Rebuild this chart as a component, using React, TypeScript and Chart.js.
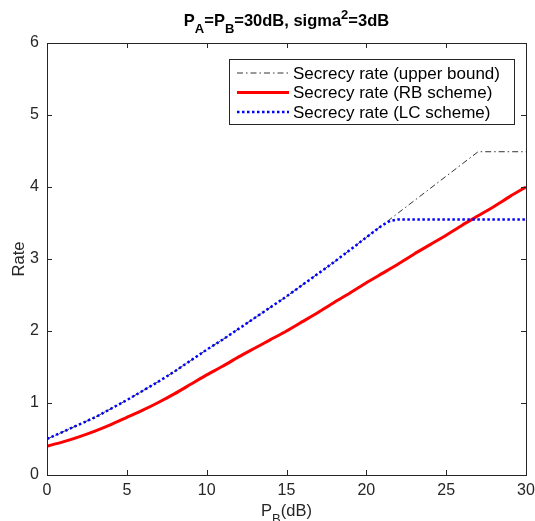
import React, { useEffect, useRef } from "react";
import { Chart, registerables } from "chart.js";
Chart.register(...registerables);

const xUpper = [0,1,2,3,4,5,6,7,8,9,10,11,12,13,14,15,16,17,18,19,20,21,22,23,24,25,26,27,28,29,30];
const yUpper = [0.50,0.60,0.70,0.80,0.92,1.04,1.17,1.30,1.44,1.59,1.74,1.88,2.03,2.18,2.33,2.48,2.64,2.80,2.96,3.13,3.30,3.47,3.64,3.81,3.98,4.15,4.32,4.49,4.49,4.49,4.49];
const xRB = [0,1,2,3,4,5,6,7,8,9,10,11,12,13,14,15,16,17,18,19,20,21,22,23,24,25,26,27,28,29,30];
const yRB = [0.40,0.46,0.53,0.61,0.70,0.80,0.90,1.01,1.13,1.26,1.39,1.51,1.64,1.76,1.88,2.00,2.13,2.26,2.40,2.53,2.67,2.80,2.93,3.07,3.20,3.33,3.47,3.60,3.73,3.87,4.00];
const xLC = [0,1,2,3,4,5,6,7,8,9,10,11,12,13,14,15,16,17,18,19,20,21,21.5,22,23,24,25,26,27,28,29,30];
const yLC = [0.50,0.60,0.70,0.80,0.92,1.04,1.17,1.30,1.44,1.59,1.74,1.88,2.03,2.18,2.33,2.48,2.64,2.80,2.96,3.13,3.30,3.47,3.53,3.55,3.55,3.55,3.55,3.55,3.55,3.55,3.55,3.55];
const xTicks = [0,5,10,15,20,25,30];
const yTicks = [0,1,2,3,4,5,6];
const legendLabels = ["Secrecy rate (upper bound)", "Secrecy rate (RB scheme)", "Secrecy rate (LC scheme)"];

const FONT = "'Liberation Sans', Arial, Helvetica, sans-serif";
const AX = "#262626";

type Seg = { t: string; sub?: boolean; sup?: boolean };

function drawRich(ctx: CanvasRenderingContext2D, segs: Seg[], cx: number, y: number, size: number, bold: boolean) {
  const w = bold ? "bold " : "";
  const small = Math.round(size * 0.8);
  let total = 0;
  for (const s of segs) {
    ctx.font = `${w}${s.sub || s.sup ? small : size}px ${FONT}`;
    total += ctx.measureText(s.t).width;
  }
  let x = cx - total / 2;
  ctx.textAlign = "left";
  ctx.textBaseline = "alphabetic";
  for (const s of segs) {
    ctx.font = `${w}${s.sub || s.sup ? small : size}px ${FONT}`;
    const dy = s.sub ? size * 0.4 : s.sup ? -size * 0.4 : 0;
    ctx.fillText(s.t, x, y + dy);
    x += ctx.measureText(s.t).width;
  }
}

const decor = {
  id: "decor",
  afterDraw(chart: any) {
    const ctx: CanvasRenderingContext2D = chart.ctx;
    const a = chart.chartArea;
    const xs = chart.scales.x;
    const ys = chart.scales.y;
    ctx.save();
    ctx.strokeStyle = AX;
    ctx.lineWidth = 1;
    ctx.setLineDash([]);
    ctx.strokeRect(Math.round(a.left) + 0.5, Math.round(a.top) + 0.5, Math.round(a.right - a.left), Math.round(a.bottom - a.top));
    const tl = 5;
    ctx.beginPath();
    for (const v of xTicks) {
      const px = Math.round(xs.getPixelForValue(v)) + 0.5;
      ctx.moveTo(px, a.bottom); ctx.lineTo(px, a.bottom - tl);
      ctx.moveTo(px, a.top); ctx.lineTo(px, a.top + tl);
    }
    for (const v of yTicks) {
      const py = Math.round(ys.getPixelForValue(v)) + 0.5;
      ctx.moveTo(a.left, py); ctx.lineTo(a.left + tl, py);
      ctx.moveTo(a.right, py); ctx.lineTo(a.right - tl, py);
    }
    ctx.stroke();

    // legend
    const lx = 229.5, ly = 59.5, lw = 285, lh = 65;
    ctx.fillStyle = "#fff";
    ctx.fillRect(lx, ly, lw, lh);
    ctx.strokeStyle = AX;
    ctx.lineWidth = 1;
    ctx.strokeRect(lx, ly, lw, lh);
    const rows = [73, 92.5, 112];
    const styles = [
      { c: "#000", w: 0.8, d: [6, 3, 1.5, 3] },
      { c: "#ff0000", w: 3, d: [] as number[] },
      { c: "#0000ff", w: 2.5, d: [2.5, 2.5] },
    ];
    ctx.font = `17px ${FONT}`;
    ctx.textBaseline = "middle";
    ctx.textAlign = "left";
    for (let i = 0; i < 3; i++) {
      const s = styles[i];
      ctx.beginPath();
      ctx.strokeStyle = s.c;
      ctx.lineWidth = s.w;
      ctx.setLineDash(s.d);
      ctx.moveTo(237, rows[i]);
      ctx.lineTo(289, rows[i]);
      ctx.stroke();
      ctx.setLineDash([]);
      ctx.fillStyle = "#000";
      ctx.fillText(legendLabels[i], 293, rows[i] + 1);
    }

    // title
    ctx.fillStyle = "#000";
    drawRich(ctx, [{ t: "P" }, { t: "A", sub: true }, { t: "=P" }, { t: "B", sub: true }, { t: "=30dB, sigma" }, { t: "2", sup: true }, { t: "=3dB" }], (a.left + a.right) / 2, 26, 16.5, true);
    // x label
    ctx.fillStyle = AX;
    drawRich(ctx, [{ t: "P" }, { t: "B", sub: true }, { t: "(dB)" }], (a.left + a.right) / 2, 516, 16.5, false);
    // y label
    ctx.save();
    ctx.translate(19, (a.top + a.bottom) / 2);
    ctx.rotate(-Math.PI / 2);
    ctx.font = `16.5px ${FONT}`;
    ctx.textAlign = "center";
    ctx.textBaseline = "middle";
    ctx.fillText("Rate", 0, 0);
    ctx.restore();
    ctx.restore();
  },
};

function toPts(xs: number[], ys: number[]) {
  return xs.map((x, i) => ({ x, y: ys[i] }));
}

export default function App() {
  const ref = useRef<HTMLCanvasElement | null>(null);
  useEffect(() => {
    if (!ref.current) return;
    const chart = new Chart(ref.current, {
      type: "line",
      data: {
        datasets: [
          { label: legendLabels[2], data: toPts(xLC, yLC), borderColor: "#0000ff", borderWidth: 2.5, borderDash: [2.5, 2.5], pointRadius: 0, tension: 0, order: 0 },
          { label: legendLabels[1], data: toPts(xRB, yRB), borderColor: "#ff0000", borderWidth: 3, pointRadius: 0, tension: 0.2, order: 1 },
          { label: legendLabels[0], data: toPts(xUpper, yUpper), borderColor: "#000000", borderWidth: 0.8, borderDash: [6, 3, 1.5, 3], pointRadius: 0, tension: 0, order: 2 },
        ],
      },
      options: {
        animation: false,
        responsive: false,
        maintainAspectRatio: false,
        layout: { padding: { left: 0, right: 9, top: 43, bottom: 0 } },
        plugins: { legend: { display: false }, title: { display: false }, tooltip: { enabled: false } },
        scales: {
          x: {
            type: "linear", min: 0, max: 30,
            afterFit: (s: any) => { s.height = 46; s.paddingLeft = 0; s.paddingRight = 0; },
            afterBuildTicks: (s: any) => { s.ticks = xTicks.map((v) => ({ value: v })); },
            grid: { display: false, drawTicks: false }, border: { display: false },
            ticks: { color: AX, padding: 6, font: { size: 16, family: FONT }, maxRotation: 0, autoSkip: false },
          },
          y: {
            type: "linear", min: 0, max: 6,
            afterFit: (s: any) => { s.width = 47; s.paddingTop = 0; s.paddingBottom = 0; },
            afterBuildTicks: (s: any) => { s.ticks = yTicks.map((v) => ({ value: v })); },
            grid: { display: false, drawTicks: false }, border: { display: false },
            ticks: { color: AX, padding: 8, font: { size: 16, family: FONT }, autoSkip: false },
          },
        },
      },
      plugins: [decor],
    } as any);
    return () => chart.destroy();
  }, []);
  return (
    <div style={{ position: "fixed", left: 0, top: 0, width: 535, height: 521, background: "#fff" }}>
      <canvas ref={ref} width={535} height={521} style={{ width: 535, height: 521, display: "block" }} />
    </div>
  );
}
